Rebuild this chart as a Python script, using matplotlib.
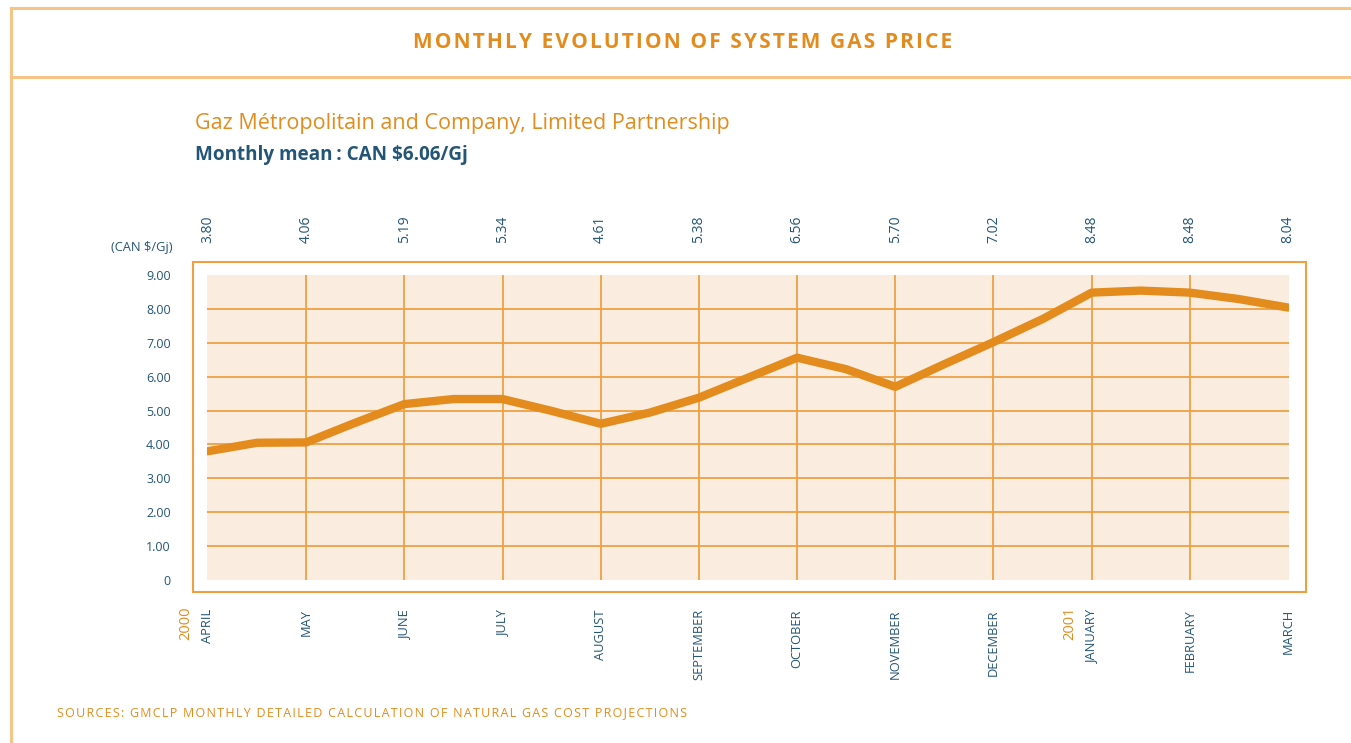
import numpy as np
import matplotlib.pyplot as plt
from matplotlib.patches import Rectangle
from matplotlib.lines import Line2D
from matplotlib.transforms import blended_transform_factory

# ---------------------------------------------------------------------
# Datos
# ---------------------------------------------------------------------
months = ["APRIL", "MAY", "JUNE", "JULY", "AUGUST", "SEPTEMBER",
          "OCTOBER", "NOVEMBER", "DECEMBER", "JANUARY", "FEBRUARY", "MARCH"]
month_values = [3.80, 4.06, 5.19, 5.34, 4.61, 5.38, 6.56, 5.70, 7.02, 8.48, 8.48, 8.04]
# puntos intermedios (mitad de mes)
mid_values = [4.05, 4.64, 5.34, 4.99, 4.94, 5.97, 6.22, 6.37, 7.70, 8.54, 8.29]
value_labels = ["3.80", "4.06", "5.19", "5.34", "4.61", "5.38",
                "6.56", "5.70", "7.02", "8.48", "8.48", "8.04"]
years = {"2000": 0, "2001": 9}
y_ticks = [0, 1, 2, 3, 4, 5, 6, 7, 8, 9]
y_ticklabels = ["0", "1.00", "2.00", "3.00", "4.00", "5.00", "6.00", "7.00", "8.00", "9.00"]

# ---------------------------------------------------------------------
# Colores y figura
# ---------------------------------------------------------------------
ORANGE = "#e38c1d"
GRID = "#eea042"
BORDER = "#f5c486"
BLUE = "#235577"
SHADE = "#fbece0"
FONT = "Open Sans"
FAM = [FONT, "DejaVu Sans"]

W, H = 1351, 743
fig = plt.figure(figsize=(W / 100, H / 100), dpi=100)
fig.patch.set_facecolor("white")


def fx(px):
    return px / W


def fy(py):
    return 1 - py / H


def spaced(s, sep="\u200a"):
    # espaciado entre letras (tracking) como en el original
    return sep.join(s)


# marco de la pagina
fig.add_artist(Line2D([fx(11), 1], [fy(8), fy(8)], color=BORDER, lw=2.2))
fig.add_artist(Line2D([fx(11), 1], [fy(77), fy(77)], color=BORDER, lw=2.2))
fig.add_artist(Line2D([fx(11), fx(11)], [fy(8), 0], color=BORDER, lw=2.2))

fig.text(fx(683), fy(42), spaced("MONTHLY EVOLUTION OF SYSTEM GAS PRICE"),
         color=ORANGE, fontsize=15, fontweight="bold", family=FAM,
         ha="center", va="center")

fig.text(fx(195), fy(123), "Gaz Métropolitain and Company, Limited Partnership",
         color=ORANGE, fontsize=15.45, family=FONT, ha="left", va="center")
fig.text(fx(195), fy(155), "Monthly mean\u2009: CAN $6.06/Gj",
         color=BLUE, fontsize=13.6, fontweight="bold", family=FAM, ha="left", va="center")

# recuadro exterior del grafico
fig.add_artist(Rectangle((fx(193), fy(592)), fx(1306) - fx(193), fy(262) - fy(592),
                         transform=fig.transFigure, fill=False, edgecolor=GRID, lw=1.5))

# ---------------------------------------------------------------------
# Eje principal
# ---------------------------------------------------------------------
ax = fig.add_axes([fx(207), fy(580), fx(1289) - fx(207), fy(275) - fy(580)])
ax.set_facecolor(SHADE)
for s in ax.spines.values():
    s.set_visible(False)

n = len(months)
month_x = np.arange(n) * 2
line_y = []
for i in range(n):
    line_y.append(month_values[i])
    if i < len(mid_values):
        line_y.append(mid_values[i])
line_x = np.arange(len(line_y))

for v in y_ticks[1:-1]:
    ax.axhline(v, color=GRID, lw=1.3, zorder=1)
for x in month_x[1:-1]:
    ax.axvline(x, color=GRID, lw=1.3, zorder=1)

ax.plot(line_x, line_y, color=ORANGE, lw=6, solid_capstyle="round",
        solid_joinstyle="round", zorder=3)

ax.set_xlim(-0.02, month_x[-1] + 0.02)
ax.set_ylim(0, 9)

ax.set_yticks(y_ticks)
ax.set_yticklabels(y_ticklabels, fontsize=9, color=BLUE, family=FONT)
ax.tick_params(axis="y", length=0, pad=26)

ax.set_xticks(month_x)
ax.set_xticklabels(months, rotation=90, fontsize=9.3, color=BLUE, family=FONT,
                   va="top", ha="center")
ax.tick_params(axis="x", length=0, pad=21)

trans = blended_transform_factory(ax.transData, fig.transFigure)
for x, lab in zip(month_x, value_labels):
    ax.text(x, fy(243), lab, transform=trans, rotation=90, fontsize=10, color=BLUE,
            family=FONT, ha="center", va="bottom")

for yr, idx in years.items():
    ax.text(month_x[idx] - 0.45, fy(607), yr, transform=trans, rotation=90,
            fontsize=10.5, color=ORANGE, family=FONT, ha="center", va="top")

fig.text(fx(173), fy(247), "(CAN $/Gj)", fontsize=9.3, color=BLUE, family=FONT,
         ha="right", va="center")

fig.text(fx(57), fy(713),
         spaced("SOURCES: GMCLP MONTHLY DETAILED CALCULATION OF NATURAL GAS COST PROJECTIONS"),
         fontsize=9, color=ORANGE, family=FAM, ha="left", va="center")

fig.savefig("out.png", dpi=100)
